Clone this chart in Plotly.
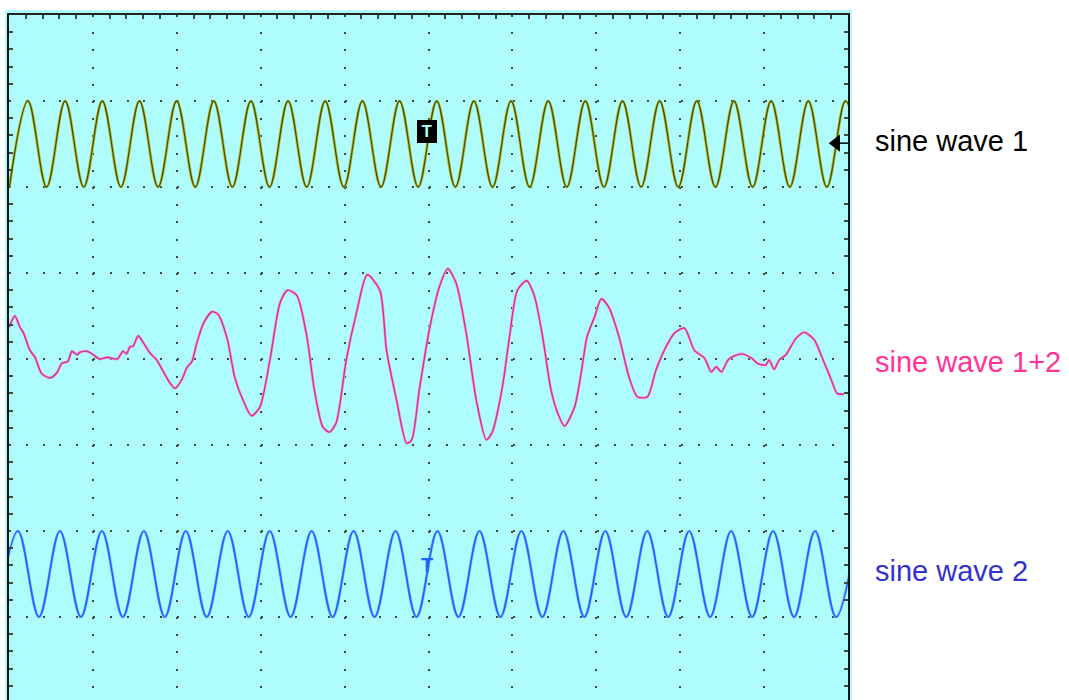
import plotly.graph_objects as go

# ---- data (oscilloscope divisions: x = time div, y = vertical div, 0 = screen centre) ----
# sine wave 1: times of successive troughs / peaks and their levels
w1_t = [0.005, 0.226, 0.448, 0.669, 0.891, 1.112, 1.334, 1.555, 1.777, 1.998, 2.220, 2.441,
        2.662, 2.883, 3.105, 3.326, 3.548, 3.769, 3.991, 4.212, 4.434, 4.655, 4.877, 5.098,
        5.320, 5.541, 5.763, 5.984, 6.205, 6.427, 6.648, 6.869, 7.091, 7.312, 7.534, 7.755,
        7.977, 8.198, 8.420, 8.641, 8.863, 9.084, 9.306, 9.527, 9.748, 9.970, 10.191]
w1_v = [2.0, 3.0, 2.0, 3.0, 2.0, 3.0, 2.0, 3.0, 2.0, 3.0, 2.0, 3.0,
        2.0, 3.0, 2.0, 3.0, 2.0, 3.0, 2.0, 3.0, 2.0, 3.0, 2.0, 3.0,
        2.0, 3.0, 2.0, 3.0, 2.0, 3.0, 2.0, 3.0, 2.0, 3.0, 2.0, 3.0,
        2.0, 3.0, 2.0, 3.0, 2.0, 3.0, 2.0, 3.0, 2.0, 3.0, 2.0]

# sine wave 2: times of successive troughs / peaks and their levels
w2_t = [-0.143, 0.107, 0.357, 0.607, 0.857, 1.107, 1.357, 1.607, 1.857, 2.107, 2.357, 2.607,
        2.857, 3.107, 3.357, 3.607, 3.857, 4.107, 4.357, 4.607, 4.857, 5.107, 5.357, 5.607,
        5.857, 6.107, 6.357, 6.607, 6.857, 7.107, 7.357, 7.607, 7.857, 8.107, 8.357, 8.607,
        8.857, 9.107, 9.357, 9.607, 9.857, 10.107]
w2_v = [-3.0, -2.0, -3.0, -2.0, -3.0, -2.0, -3.0, -2.0, -3.0, -2.0, -3.0, -2.0,
        -3.0, -2.0, -3.0, -2.0, -3.0, -2.0, -3.0, -2.0, -3.0, -2.0, -3.0, -2.0,
        -3.0, -2.0, -3.0, -2.0, -3.0, -2.0, -3.0, -2.0, -3.0, -2.0, -3.0, -2.0,
        -3.0, -2.0, -3.0, -2.0, -3.0, -2.0]

sum_t = [0.00, 0.07, 0.13, 0.17, 0.25, 0.31, 0.39, 0.49, 0.57, 0.63,
         0.70, 0.75, 0.81, 0.85, 0.93, 0.99, 1.08, 1.17, 1.29, 1.36,
         1.40, 1.44, 1.48, 1.54, 1.60, 1.68, 1.76, 1.83, 1.92, 1.98,
         2.06, 2.12, 2.18, 2.24, 2.32, 2.42, 2.49, 2.60, 2.69, 2.79,
         2.89, 2.99, 3.11, 3.23, 3.32, 3.43, 3.55, 3.64, 3.74, 3.82,
         3.90, 4.02, 4.14, 4.27, 4.42, 4.50, 4.62, 4.74, 4.80, 4.89,
         5.01, 5.13, 5.23, 5.33, 5.45, 5.57, 5.69, 5.76, 5.88, 5.96,
         6.06, 6.17, 6.26, 6.36, 6.46, 6.54, 6.62, 6.74, 6.82, 6.89,
         6.98, 7.06, 7.15, 7.27, 7.39, 7.49, 7.61, 7.71, 7.83, 7.93,
         8.05, 8.17, 8.29, 8.37, 8.43, 8.49, 8.58, 8.73, 8.85, 8.92,
         9.02, 9.06, 9.12, 9.18, 9.26, 9.38, 9.48, 9.60, 9.69, 9.80,
         9.87, 9.95]
sum_v = [0.37, 0.50, 0.37, 0.31, 0.10, 0.02, -0.17, -0.22, -0.16, -0.05,
         -0.03, 0.09, 0.05, 0.08, 0.09, 0.06, 0.00, 0.02, 0.00, 0.09,
         0.06, 0.14, 0.15, 0.27, 0.19, 0.07, -0.01, -0.13, -0.28, -0.34,
         -0.24, -0.10, -0.03, 0.19, 0.42, 0.55, 0.52, 0.24, -0.21, -0.48,
         -0.66, -0.56, -0.01, 0.65, 0.80, 0.74, 0.26, -0.36, -0.79, -0.85,
         -0.74, -0.01, 0.53, 0.98, 0.80, 0.10, -0.48, -0.98, -0.94, -0.36,
         0.34, 0.84, 1.05, 0.88, 0.30, -0.48, -0.94, -0.85, -0.33, 0.22,
         0.80, 0.91, 0.74, 0.26, -0.36, -0.63, -0.78, -0.56, -0.16, 0.26,
         0.49, 0.70, 0.60, 0.26, -0.21, -0.44, -0.44, -0.13, 0.14, 0.30,
         0.36, 0.10, 0.01, -0.15, -0.09, -0.15, 0.00, 0.06, 0.01, -0.05,
         -0.07, -0.01, -0.12, -0.01, 0.05, 0.24, 0.31, 0.22, 0.02, -0.24,
         -0.40, -0.41]

labels = ["sine wave 1", "sine wave 1+2", "sine wave 2"]
label_levels = [2.54, -0.03, -2.46]
label_colors = ["#000000", "#ff3399", "#3333cc"]

CYAN = "#aefcfc"
DOT = "#3f4d3c"
PLOT_W, PLOT_H = 839, 685

fig = go.Figure()

# sine wave 1 (olive with yellow halo)
fig.add_trace(go.Scatter(x=w1_t, y=w1_v, mode="lines", line=dict(color="#b9c43c", width=3, shape="spline"),
                         hoverinfo="skip"))
fig.add_trace(go.Scatter(x=w1_t, y=w1_v, mode="lines", line=dict(color="#44500a", width=1.3, shape="spline"),
                         hoverinfo="skip"))
# sine wave 1+2
fig.add_trace(go.Scatter(x=sum_t, y=sum_v, mode="lines",
                         line=dict(color="#f2a6d6", width=2.8, shape="spline", smoothing=0.7),
                         hoverinfo="skip"))
fig.add_trace(go.Scatter(x=sum_t, y=sum_v, mode="lines",
                         line=dict(color="#cf2f99", width=1.4, shape="spline", smoothing=0.7),
                         hoverinfo="skip"))
# sine wave 2
fig.add_trace(go.Scatter(x=w2_t, y=w2_v, mode="lines", line=dict(color="#8cc4ff", width=3, shape="spline"),
                         hoverinfo="skip"))
fig.add_trace(go.Scatter(x=w2_t, y=w2_v, mode="lines", line=dict(color="#1a66ff", width=1.7, shape="spline"),
                         hoverinfo="skip"))

# channel ground markers at the left edge
fig.add_trace(go.Scatter(x=[-0.04], y=[0], mode="markers", cliponaxis=False,
                         marker=dict(symbol="triangle-right", size=7, color="#d3309c"), hoverinfo="skip"))
fig.add_trace(go.Scatter(x=[-0.05], y=[-2.52], mode="markers", cliponaxis=False,
                         marker=dict(symbol="triangle-right", size=5, color="#1a66ff"), hoverinfo="skip"))
# channel 1 level marker at the right edge
fig.add_trace(go.Scatter(x=[9.86], y=[2.51], mode="markers", cliponaxis=False,
                         marker=dict(symbol="triangle-left", size=15, color="#000000"), hoverinfo="skip"))
fig.add_shape(type="line", x0=9.9, x1=10.0, y0=2.51, y1=2.51, line=dict(color="#000000", width=1.5))

# trigger markers
fig.add_annotation(x=4.98, y=2.64, text="<b>T</b>", showarrow=False,
                   font=dict(family="Liberation Sans", size=17, color=CYAN),
                   bgcolor="#000000", bordercolor="#000000", borderpad=1, width=16, height=19)
fig.add_annotation(x=4.98, y=-2.40, text="<b>T</b>", showarrow=False,
                   font=dict(family="Liberation Sans", size=20, color="#1a66ff"))

# right-hand labels
for txt, lv, col in zip(labels, label_levels, label_colors):
    fig.add_annotation(xref="paper", x=(873 - 9) / PLOT_W, y=lv, text=txt, showarrow=False,
                       xanchor="left", yanchor="middle",
                       font=dict(family="Liberation Sans", size=29, color=col))

# cyan screen slightly larger than the graticule frame
fig.add_shape(type="rect", xref="paper", yref="paper", x0=-4 / PLOT_W, x1=1 + 4 / PLOT_W,
              y0=0, y1=1 + 5 / PLOT_H, fillcolor=CYAN, line=dict(width=0), layer="below")

fig.update_layout(
    width=1069, height=700,
    margin=dict(l=9, r=221, t=15, b=0, pad=0),
    paper_bgcolor="white", plot_bgcolor=CYAN,
    showlegend=False,
    xaxis=dict(range=[0, 10], side="top", tick0=0, dtick=1, showticklabels=False,
               showgrid=True, gridcolor=DOT, gridwidth=1.6, griddash="2px,15.2px",
               zeroline=False, showline=True, linecolor="#222222", linewidth=2,
               ticks="", minor=dict(dtick=0.2, ticks="inside", ticklen=4, tickcolor=DOT, tickwidth=1.5,
                                    showgrid=False)),
    yaxis=dict(range=[-3.965, 4.0], tick0=0, dtick=1, showticklabels=False,
               showgrid=True, gridcolor=DOT, gridwidth=1.6, griddash="2px,14.8px",
               zeroline=False, showline=True, mirror="allticks", linecolor="#111111", linewidth=2,
               ticks="", minor=dict(dtick=0.2, ticks="inside", ticklen=4, tickcolor=DOT, tickwidth=1.5,
                                    showgrid=False)),
)

fig.write_html("out.html", config={"displayModeBar": False},
               post_script="document.body.style.margin='0px';document.body.style.overflow='hidden';")
